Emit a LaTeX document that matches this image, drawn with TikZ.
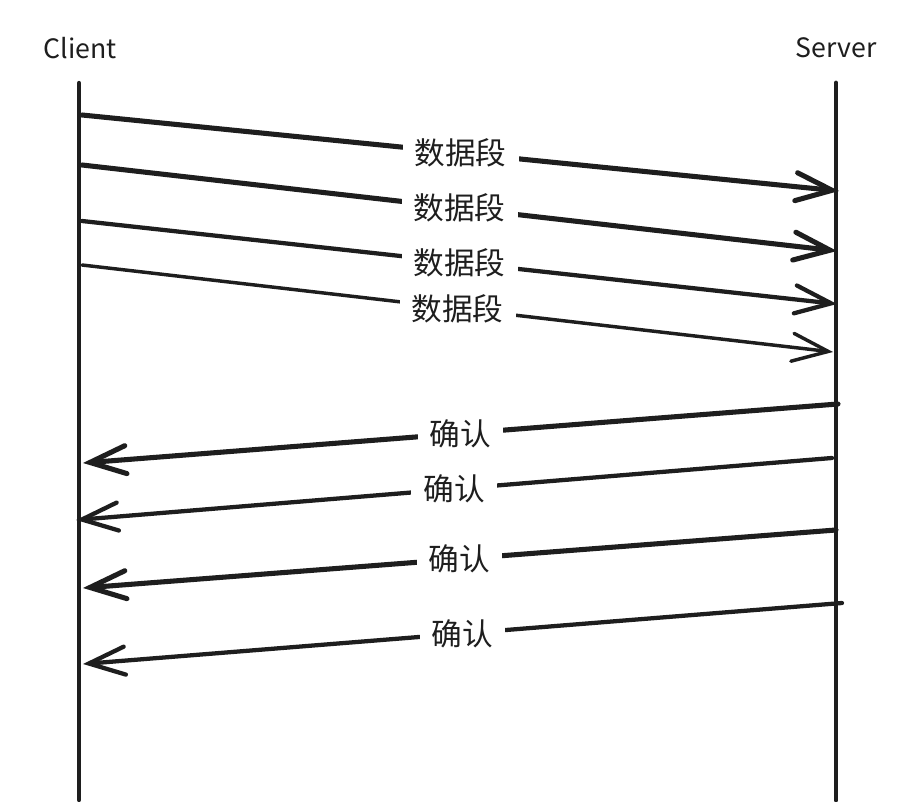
\documentclass[tikz,border=0pt]{standalone}
\usepackage{fontspec}
\newfontfamily\cjk{Noto Sans CJK SC}
\usetikzlibrary{arrows.meta}
\definecolor{ink}{HTML}{1E1E1E}
\begin{document}
\begin{tikzpicture}[x=0.75pt,y=-0.75pt,
  lifeline/.style={draw=ink,line width=3.2pt,line cap=round},
  msg/.style={draw=ink,line cap=round,-{Straight Barb[length=27pt,width=21pt,line cap=round]}},
  heavy/.style={line width=3.8pt},
  medium/.style={line width=3.2pt},
  light/.style={line width=2.6pt},
  lbl/.style={fill=white,inner xsep=9pt,inner ysep=1pt,text=ink,font=\cjk\fontsize{23}{26}\selectfont},
  actor/.style={text=ink,font=\cjk\fontsize{20}{24}\selectfont}]
\useasboundingbox[fill=white] (0,0) rectangle (904,802);
\node[actor] (client) at (80,48) {Client};
\node[actor] (server) at (836,48) {Server};
\coordinate (ct) at (79,83); \coordinate (cb) at (79,800);
\coordinate (st) at (836,83); \coordinate (sb) at (836,800);
\draw[lifeline] (ct) -- (cb);
\draw[lifeline,line width=3.6pt] (st) -- (sb);
% data segments
\coordinate (d1a) at (82,115); \coordinate (d1b) at (839,191);
\coordinate (d2a) at (82,165); \coordinate (d2b) at (837,251);
\coordinate (d3a) at (82,221); \coordinate (d3b) at (837,304);
\coordinate (d4a) at (82,265); \coordinate (d4b) at (833,352);
\draw[msg,heavy] (d1a) -- node[lbl] (l1) {数据段} (d1b);
\draw[msg,heavy] (d2a) -- node[lbl] (l2) {数据段} (d2b);
\draw[msg,medium] (d3a) -- node[lbl] (l3) {数据段} (d3b);
\draw[msg,light] (d4a) -- node[lbl] (l4) {数据段} (d4b);
% acknowledgements
\coordinate (a1a) at (838,404); \coordinate (a1b) at (83,463);
\coordinate (a2a) at (832,458); \coordinate (a2b) at (76,520);
\coordinate (a3a) at (836,530); \coordinate (a3b) at (83,588);
\coordinate (a4a) at (842,603); \coordinate (a4b) at (83,664);
\draw[msg,heavy] (a1a) -- node[lbl] (k1) {确认} (a1b);
\draw[msg,medium] (a2a) -- node[lbl] (k2) {确认} (a2b);
\draw[msg,heavy] (a3a) -- node[lbl] (k3) {确认} (a3b);
\draw[msg,medium] (a4a) -- node[lbl] (k4) {确认} (a4b);
\end{tikzpicture}
\end{document}
